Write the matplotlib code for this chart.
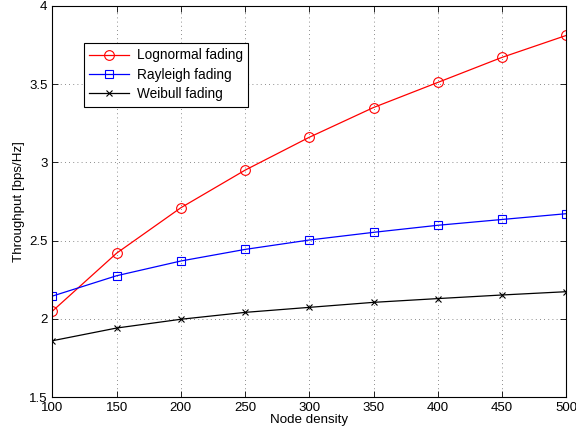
import matplotlib

matplotlib.use("Agg")
import matplotlib.pyplot as plt

node_density = [100, 150, 200, 250, 300, 350, 400, 450, 500]
lognormal = [2.05, 2.42, 2.71, 2.95, 3.16, 3.35, 3.51, 3.67, 3.81]
rayleigh = [2.146, 2.276, 2.37, 2.444, 2.504, 2.553, 2.598, 2.635, 2.672]
weibull = [1.861, 1.942, 1.998, 2.042, 2.074, 2.106, 2.13, 2.153, 2.174]

plt.rcParams["font.family"] = ["Liberation Sans", "DejaVu Sans"]

fig = plt.figure(figsize=(5.76, 4.38), dpi=100)
ax = fig.add_axes([0.091, 0.093, 0.892, 0.894])

ax.plot(node_density, lognormal, color="red", linewidth=0.9, marker="o", markersize=7,
        markerfacecolor="none", markeredgewidth=0.8, label="Lognormal fading")
ax.plot(node_density, rayleigh, color="blue", linewidth=0.9, marker="s", markersize=6,
        markerfacecolor="none", markeredgewidth=0.8, label="Rayleigh fading")
ax.plot(node_density, weibull, color="black", linewidth=0.9, marker="x", markersize=5,
        markeredgewidth=0.8, label="Weibull fading")

ax.set_xlim(100, 500)
ax.set_ylim(1.5, 4)
ax.set_xticks(node_density)
ax.set_yticks([1.5, 2, 2.5, 3, 3.5, 4])
ax.set_yticklabels(["1.5", "2", "2.5", "3", "3.5", "4"])
ax.tick_params(direction="in", top=True, right=True, labelsize=9.5, length=4, width=0.6)
ax.grid(True, linestyle=(0, (1, 4)), color="black", linewidth=0.6, alpha=0.6)
for spine in ax.spines.values():
    spine.set_linewidth(0.8)

ax.set_xlabel("Node density", fontsize=9.6, labelpad=0)
ax.set_ylabel("Throughput [bps/Hz]", fontsize=9.6, labelpad=3)

leg = ax.legend(loc="upper left", bbox_to_anchor=(0.061, 0.905), fontsize=9.8,
                fancybox=False, framealpha=1, edgecolor="black", borderpad=0.4,
                handlelength=2.9, handletextpad=0.6, labelspacing=0.4, borderaxespad=0)
leg.get_frame().set_linewidth(0.8)

fig.savefig("out.png", dpi=100)
